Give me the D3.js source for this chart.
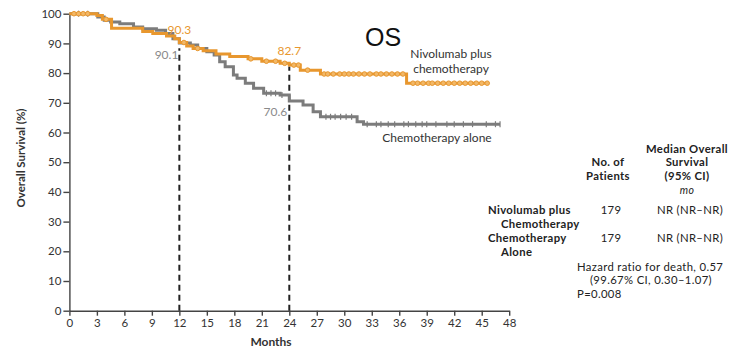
<!DOCTYPE html>
<html>
<head>
<meta charset="utf-8">
<script src="https://cdn.jsdelivr.net/npm/d3@7"></script>
<style>
  body { margin: 0; background: #fff; }
  svg { display: block; font-family: Lato, "Open Sans", sans-serif; }
</style>
</head>
<body>
<svg id="chart" width="734" height="349"></svg>
<script>
// Kaplan–Meier step data: event times (months) and survival (%) after each step
const nivoTimes = [0, 3.0, 3.6, 4.6, 8.0, 9.1, 10.6, 11.5, 12.0, 12.8, 13.5, 14.6, 16.0, 17.5, 19.5, 21.0, 23.0, 24.0, 25.2, 27.4, 36.8];
const nivoSurv  = [100, 99.4, 98.1, 95.1, 94.0, 93.3, 92.5, 91.6, 90.3, 89.1, 88.3, 87.5, 86.4, 85.6, 84.8, 84.0, 83.3, 82.7, 81.0, 79.7, 76.6];
const nivoEnd = 45.6;

const chemoTimes = [0, 3.1, 3.8, 4.5, 5.5, 7.0, 8.0, 9.5, 10.5, 11.3, 12.0, 13.2, 14.0, 15.0, 15.8, 16.4, 17.0, 17.9, 18.3, 19.2, 20.1, 21.2, 23.0, 24.0, 25.5, 26.6, 27.4, 31.4, 32.1];
const chemoSurv  = [100, 98.9, 97.8, 97.2, 96.6, 95.5, 94.9, 94.4, 93.3, 91.6, 90.1, 89.5, 88.3, 87.2, 86.1, 83.8, 82.1, 79.4, 78.3, 76.6, 74.9, 73.2, 72.6, 70.6, 69.3, 67.0, 65.3, 63.6, 62.8];
const chemoEnd = 47.0;

// censoring times (months)
const nivoCensor = [0.5, 1.0, 1.5, 2.0, 4.0, 12.5, 14.0, 19.8, 21.5, 22.5, 23.5, 24.5, 25.0, 26.0, 27.8, 28.2, 28.8, 29.5, 30.0, 30.5, 31.0, 31.6, 32.2, 32.8, 33.5, 34.0, 34.6, 35.2, 35.8, 36.4, 37.5, 38.0, 38.6, 39.2, 39.6, 40.2, 40.8, 41.4, 42.0, 42.6, 43.2, 43.8, 44.4, 45.0, 45.6];
const chemoCensor = [1.0, 2.0, 21.5, 22.0, 22.5, 23.2, 28.0, 28.5, 29.0, 29.6, 30.2, 30.8, 32.5, 33.5, 34.0, 34.8, 35.5, 36.5, 37.0, 37.8, 38.5, 39.0, 40.0, 41.2, 42.0, 43.0, 44.0, 45.5, 46.5, 47.0];

// landmark estimates
const landmarks = [
  { series: "nivo", month: 12, value: 90.3 },
  { series: "chemo", month: 12, value: 90.1 },
  { series: "nivo", month: 24, value: 82.7 },
  { series: "chemo", month: 24, value: 70.6 }
];

const xTicks = d3.range(0, 49, 3);
const yTicks = d3.range(0, 101, 10);

const orange = "#E8972E";
const grey = "#7C7C7C";
const ink = "#333";

const svg = d3.select("#chart");
const x = d3.scaleLinear().domain([0, 48]).range([69.4, 509.2]);
const y = d3.scaleLinear().domain([0, 100]).range([310.7, 13.7]);

function survAt(times, surv, t) {
  let v = surv[0];
  for (let i = 0; i < times.length; i++) if (times[i] <= t) v = surv[i];
  return v;
}

// axes
const yAxis = svg.append("g")
  .attr("transform", `translate(${x(0)},0)`)
  .call(d3.axisLeft(y).tickValues(yTicks).tickSize(6).tickSizeOuter(0).tickPadding(2));
const xAxis = svg.append("g")
  .attr("transform", `translate(0,${y(0)})`)
  .call(d3.axisBottom(x).tickValues(xTicks).tickSize(5).tickSizeOuter(0).tickPadding(3));
[yAxis, xAxis].forEach(g => {
  g.selectAll("path, line").attr("stroke", "#444").attr("stroke-width", 1.4);
  g.selectAll("text").attr("fill", ink).style("font-size", "11.5px").style("font-family", "Lato, sans-serif");
});

// landmark reference lines
svg.append("line")
  .attr("x1", x(12)).attr("x2", x(12))
  .attr("y1", y(0)).attr("y2", y(88.4))
  .attr("stroke", "#222").attr("stroke-width", 2).attr("stroke-dasharray", "6,4");
svg.append("line")
  .attr("x1", x(24)).attr("x2", x(24))
  .attr("y1", y(0)).attr("y2", y(82.2))
  .attr("stroke", "#222").attr("stroke-width", 2).attr("stroke-dasharray", "6,4");

const line = d3.line().x(d => x(d[0])).y(d => y(d[1])).curve(d3.curveStepAfter);

function steps(times, surv, end) {
  const pts = times.map((t, i) => [t, surv[i]]);
  pts.push([end, surv[surv.length - 1]]);
  return pts;
}

// chemotherapy alone
svg.append("path")
  .datum(steps(chemoTimes, chemoSurv, chemoEnd))
  .attr("d", line)
  .attr("fill", "none").attr("stroke", grey).attr("stroke-width", 3);
svg.append("g").selectAll("line")
  .data(chemoCensor)
  .join("line")
  .attr("x1", d => x(d)).attr("x2", d => x(d))
  .attr("y1", d => y(survAt(chemoTimes, chemoSurv, d)) - 3)
  .attr("y2", d => y(survAt(chemoTimes, chemoSurv, d)) + 3)
  .attr("stroke", grey).attr("stroke-width", 1.2);

// nivolumab plus chemotherapy
svg.append("path")
  .datum(steps(nivoTimes, nivoSurv, nivoEnd))
  .attr("d", line)
  .attr("fill", "none").attr("stroke", orange).attr("stroke-width", 3);
svg.append("g").selectAll("circle")
  .data(nivoCensor)
  .join("circle")
  .attr("cx", d => x(d))
  .attr("cy", d => y(survAt(nivoTimes, nivoSurv, d)))
  .attr("r", 2.3)
  .attr("fill", "#F2B868").attr("stroke", orange).attr("stroke-width", 1);

// landmark labels
const lmPos = {
  "nivo-12": { dx: 0, dy: -9, anchor: "middle" },
  "chemo-12": { dx: -1, dy: 16, anchor: "end" },
  "nivo-24": { dx: 0, dy: -10, anchor: "middle" },
  "chemo-24": { dx: -2, dy: 15, anchor: "end" }
};
svg.append("g").selectAll("text")
  .data(landmarks)
  .join("text")
  .attr("x", d => x(d.month) + lmPos[d.series + "-" + d.month].dx)
  .attr("y", d => y(d.value) + lmPos[d.series + "-" + d.month].dy)
  .attr("text-anchor", d => lmPos[d.series + "-" + d.month].anchor)
  .attr("fill", d => d.series === "nivo" ? orange : "#8A8A8A")
  .style("font-size", "12px")
  .text(d => d.value.toFixed(1));

// title
svg.append("text").attr("x", 383).attr("y", 46).attr("text-anchor", "middle")
  .style("font-family", "'Liberation Sans', Arial, sans-serif").style("font-size", "25px")
  .attr("fill", "#111").text("OS");

// multi-line text helper: one <text> with stacked tspans
function block(parent, xPos, yPos, lines, lead, opts = {}) {
  const t = parent.append("text").attr("x", xPos).attr("y", yPos)
    .attr("text-anchor", opts.anchor || "start");
  if (opts.weight) t.style("font-weight", opts.weight);
  lines.forEach((s, i) => {
    const sp = t.append("tspan").attr("y", yPos + i * lead).text(typeof s === "string" ? s : s.text);
    sp.attr("x", xPos + (s.dx || 0));
    if (s.italic) sp.style("font-style", "italic").style("font-weight", "normal").style("font-size", "10.5px");
  });
  return t;
}

// series labels
const seriesLabel = svg.append("g").attr("fill", ink).style("font-size", "12px");
block(seriesLabel, 451, 57.5, ["Nivolumab plus", "chemotherapy"], 15, { anchor: "middle" });
seriesLabel.append("text").attr("x", 437).attr("y", 141.5).attr("text-anchor", "middle").text("Chemotherapy alone");

// axis titles
svg.append("text")
  .attr("transform", "translate(25,158) rotate(-90)")
  .attr("text-anchor", "middle").attr("fill", ink)
  .style("font-size", "11.5px").style("font-weight", "bold")
  .text("Overall Survival (%)");
svg.append("text").attr("x", 271).attr("y", 346).attr("text-anchor", "middle")
  .attr("fill", ink).style("font-size", "12px").style("font-weight", "bold").text("Months");

// summary table
const table = svg.append("g").attr("fill", "#222").style("font-size", "11.3px").style("letter-spacing", "0.35px");
block(table, 687, 152.5, ["Median Overall", "Survival", "(95% CI)", { text: "mo", italic: true }], 13.8, { anchor: "middle", weight: "bold" });
block(table, 608, 166.3, ["No. of", "Patients"], 13.8, { anchor: "middle", weight: "bold" });

const rows = [
  { label: ["Nivolumab plus", "Chemotherapy"], n: 179, median: "NR (NR\u2013NR)", yy: 214 },
  { label: ["Chemotherapy", "Alone"], n: 179, median: "NR (NR\u2013NR)", yy: 242 }
];
rows.forEach(r => {
  block(table, 488, r.yy, [r.label[0], { text: r.label[1], dx: 13 }], 13.8, { weight: "bold" });
  table.append("text").attr("x", 611).attr("y", r.yy).attr("text-anchor", "middle").text(r.n);
  table.append("text").attr("x", 690).attr("y", r.yy).attr("text-anchor", "middle").text(r.median);
});
block(table, 577, 270.5, ["Hazard ratio for death, 0.57", { text: "(99.67% CI, 0.30\u20131.07)", dx: 13 }, "P=0.008"], 13.8);
</script>
</body>
</html>
